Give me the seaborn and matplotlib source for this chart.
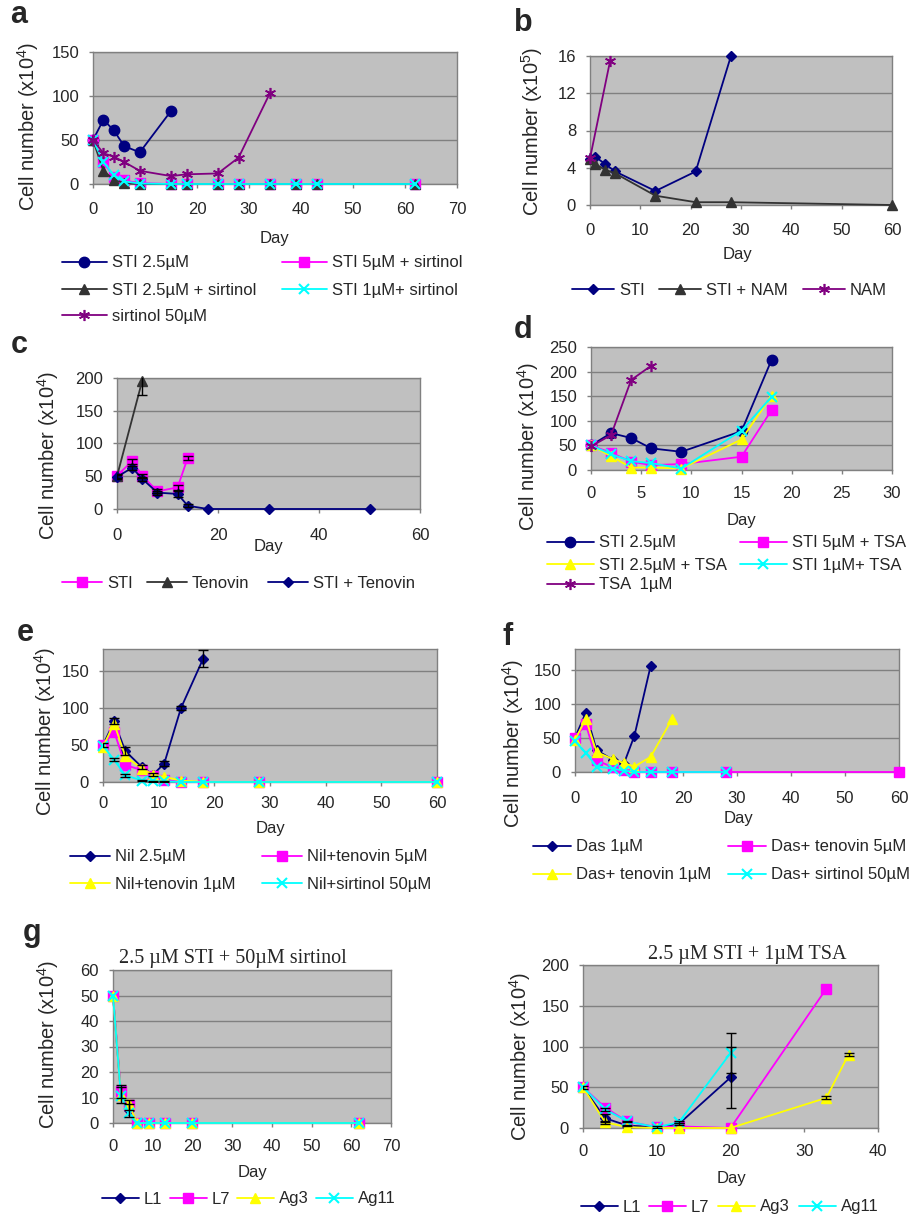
import matplotlib
matplotlib.use("Agg")
import matplotlib.pyplot as plt
import seaborn as sns

# ---------------- data ----------------
# a: sirtinol combinations
a_days_sti = [0, 2, 4, 6, 9, 15]
a_sti25 = [50, 73, 61, 43, 36, 83]
a_days_comb = [0, 2, 4, 6, 9, 15, 18, 24, 28, 34, 39, 43, 62]
a_sti5_sirt = [50, 25, 8, 4, 1, 0, 0, 0, 0, 0, 0, 0, 0]
a_sti25_sirt = [50, 15, 5, 1, 0, 0, 0, 0, 0, 0, 0, 0, 0]
a_sti1_sirt = [50, 25, 10, 3, 0.5, 0, 0, 0, 0, 0, 0, 0, 0]
a_days_sirt = [0, 2, 4, 6, 9, 15, 18, 24, 28, 34]
a_sirt50 = [50, 35, 31, 25, 15, 9, 11, 12, 30, 103]

# b: nicotinamide (x10^5)
b_days_sti = [0, 1, 3, 5, 13, 21, 28]
b_sti = [4.9, 5.2, 4.4, 3.6, 1.5, 3.6, 16]
b_days_sti_nam = [0, 1, 3, 5, 13, 21, 28, 60]
b_sti_nam = [4.9, 4.4, 3.8, 3.4, 1.0, 0.3, 0.3, 0]
b_days_nam = [0, 4]
b_nam = [5, 15.5]

# c: tenovin
c_days_sti = [0, 3, 5, 8, 12, 14]
c_sti = [51, 73, 51, 27, 33, 78]
c_sti_err = [3, 4, 3, 3, 4, 3]
c_days_ten = [0, 5]
c_ten = [50, 196]
c_ten_err = [0, 22]
c_days_combo = [0, 3, 5, 8, 12, 14, 18, 30, 50]
c_combo = [49, 63, 46, 25, 23, 5, 0, 0, 0]
c_combo_err = [3, 3, 3, 3, 4, 2, 0, 0, 0]

# d: TSA
d_days = [0, 2, 4, 6, 9, 15, 18]
d_sti25 = [50, 75, 65, 44, 37, 79, 224]
d_sti5_tsa = [50, 35, 17, 10, 12, 27, 122]
d_sti25_tsa = [50, 28, 5, 5, 3, 62, 151]
d_sti1_tsa = [50, 32, 18, 14, 3, 80, 149]
d_days_tsa = [0, 2, 4, 6]
d_tsa = [48, 71, 183, 212]

# e: nilotinib
e_days_nil = [0, 2, 4, 7, 9, 11, 14, 18]
e_nil = [50, 82, 42, 20, 10, 25, 100, 167]
e_nil_err = [3, 4, 5, 3, 2, 3, 3, 11]
e_days_comb = [0, 2, 4, 7, 9, 11, 14, 18, 28, 60]
e_ten5 = [50, 68, 23, 16, 8, 3, 0, 0, 0, 0]
e_ten1 = [48, 79, 35, 18, 10, 7, 2, 0, 0, 0]
e_sirt = [49, 30, 9, 2, 1, 1, 0, 0, 0, 0]
e_sirt_err = [0, 2, 2, 1, 1, 1, 0, 0, 0, 0]

# f: dasatinib
f_days_das = [0, 2, 4, 7, 9, 11, 14]
f_das = [50, 87, 32, 18, 11, 53, 155]
f_days_ten5 = [0, 2, 4, 7, 9, 11, 14, 18, 28, 60]
f_ten5 = [50, 70, 17, 7, 3, 0, 0, 0, 0, 0]
f_days_ten1 = [0, 2, 4, 7, 9, 11, 14, 18]
f_ten1 = [47, 78, 29, 19, 13, 8, 22, 78]
f_days_sirt = [0, 2, 4, 7, 9, 11, 14, 18, 28]
f_sirt = [45, 28, 8, 5, 2, 0, 0, 0, 0]

# g left: 2.5 uM STI + 50 uM sirtinol
gl_days = [0, 2, 4, 6, 9, 13, 20, 62]
gl_l1 = [50, 11, 5, 0, 0, 0, 0, 0]
gl_l1_err = [0, 3, 2.5, 0, 0, 0, 0, 0]
gl_l7 = [50, 12.4, 7, 0, 0, 0, 0, 0]
gl_l7_err = [0, 2.5, 2, 0, 0, 0, 0, 0]
gl_ag3 = [50, 11, 7.5, 0, 0, 0, 0, 0]
gl_ag11 = [50, 10.5, 4, 0, 0, 0, 0, 0]

# g right: 2.5 uM STI + 1 uM TSA
gr_days_short = [0, 3, 6, 10, 13, 20]
gr_l1 = [50, 12, 3, 1, 5, 62]
gr_l1_err = [2, 5, 1, 1, 1, 37]
gr_ag11 = [50, 23, 8, 1, 7, 92]
gr_ag11_err = [0, 2, 1, 0, 1, 25]
gr_days_l7 = [0, 3, 6, 10, 13, 20, 33]
gr_l7 = [50, 25, 8, 1, 2, 0, 171]
gr_days_ag3 = [0, 3, 6, 10, 13, 20, 33, 36]
gr_ag3 = [50, 7, 1, 0, 0, 0, 37, 90]
gr_ag3_err = [0, 2, 0, 0, 0, 0, 2, 2]

# ---------------- styling ----------------
sns.set_theme(style="white")
plt.rcParams["font.family"] = ["Liberation Sans", "DejaVu Sans"]
plt.rcParams["mathtext.fontset"] = "custom"
plt.rcParams["mathtext.rm"] = "Liberation Sans"
plt.rcParams["mathtext.default"] = "regular"

W, H = 921, 1217
fig = plt.figure(figsize=(W / 100, H / 100), dpi=100)
fig.patch.set_facecolor("white")

PLOT_BG = "#C0C0C0"
GREY = "#808080"
FS = 12
YFS = 14.5

STYLE = {
    "circle_navy": dict(color="#000080", marker="o", markersize=7.5),
    "diamond_navy": dict(color="#000080", marker="D", markersize=5.5),
    "square_mag": dict(color="#FF00FF", marker="s", markersize=6.5),
    "tri_black": dict(color="#333333", marker="^", markersize=7.5),
    "tri_yellow": dict(color="#FFFF00", marker="^", markersize=7.5),
    "x_cyan": dict(color="#00FFFF", marker="x", markersize=7, markeredgewidth=1.5),
    "star_purple": dict(color="#800080", marker=(6, 2, 0), markersize=8, markeredgewidth=1.2),
}


def make_panel(box, xlim, xticks, ylim, yticks, ylabel, ylab_xy, xlab_xy, xdist):
    x0, y0, x1, y1 = box
    ax = fig.add_axes([x0 / W, 1 - y1 / H, (x1 - x0) / W, (y1 - y0) / H])
    ax.set_facecolor(PLOT_BG)
    ax.set_xlim(*xlim)
    ax.set_ylim(*ylim)
    ax.set_xticks(xticks)
    ax.set_yticks(yticks)
    ax.yaxis.grid(True, color=GREY, linewidth=1)
    ax.xaxis.grid(False)
    ax.set_axisbelow(True)
    for s in ax.spines.values():
        s.set_color(GREY)
        s.set_linewidth(1)
    # tick labels: pad so the label centre sits xdist px below the axis
    xpad = (xdist - 4 - 9) * 0.72
    ax.tick_params(axis="x", direction="out", length=3, width=1, color=GREY,
                   labelsize=FS, pad=xpad, bottom=True)
    ax.tick_params(axis="y", direction="out", length=3, width=1, color=GREY,
                   labelsize=FS, pad=7, left=True)
    ax.set_ylabel(ylabel, fontsize=YFS)
    ax.yaxis.set_label_coords((ylab_xy[0] - x0) / (x1 - x0), (y1 - ylab_xy[1]) / (y1 - y0))
    ax.yaxis.label.set_va("center")
    ax.set_xlabel("Day", fontsize=FS)
    ax.xaxis.set_label_coords((xlab_xy[0] - x0) / (x1 - x0), (y1 - xlab_xy[1]) / (y1 - y0))
    ax.xaxis.label.set_va("center")
    return ax


def series(ax, x, y, key, z=3):
    st = dict(STYLE[key])
    c = st.pop("color")
    st.setdefault("markeredgewidth", 1)
    sns.lineplot(x=x, y=y, ax=ax, color=c, markeredgecolor=c, markerfacecolor=c,
                 linewidth=1.3, legend=False, clip_on=False, zorder=z, **st)
    return ax.lines[-1]


def errbars(ax, x, y, err):
    pts = [(a, b, e) for a, b, e in zip(x, y, err) if e > 0]
    ax.errorbar([p[0] for p in pts], [p[1] for p in pts], yerr=[p[2] for p in pts],
                fmt="none", ecolor="black", elinewidth=1, capsize=3.5, capthick=1, zorder=4)


def legend_item(handle, label, x, y, hlen):
    fig.legend([handle], [label], loc="center left", bbox_to_anchor=(x / W, 1 - y / H),
               frameon=False, borderpad=0, borderaxespad=0, fontsize=FS,
               handlelength=hlen / 16.7, handletextpad=0.3, numpoints=1)


def panel_letter(t, x, y):
    fig.text(x / W, 1 - y / H, t, fontsize=22, fontweight="bold", ha="center", va="center")


YL4 = "Cell number (x10$^4$)"
YL5 = "Cell number (x10$^5$)"

# ---- a ----
ax = make_panel((93, 52, 457, 184), (0, 70), range(0, 71, 10), (0, 150), [0, 50, 100, 150],
                YL4, (28, 126), (274, 238), 27)
h1 = series(ax, a_days_sti, a_sti25, "circle_navy")
h2 = series(ax, a_days_comb, a_sti5_sirt, "square_mag")
h3 = series(ax, a_days_comb, a_sti25_sirt, "tri_black")
h4 = series(ax, a_days_comb, a_sti1_sirt, "x_cyan")
h5 = series(ax, a_days_sirt, a_sirt50, "star_purple")
legend_item(h1, "STI 2.5µM", 62, 263, 45)
legend_item(h2, "STI 5µM + sirtinol", 282, 263, 45)
legend_item(h3, "STI 2.5µM + sirtinol", 62, 290, 45)
legend_item(h4, "STI 1µM+ sirtinol", 282, 290, 45)
legend_item(h5, "sirtinol 50µM", 62, 316, 45)
panel_letter("a", 19, 15)

# ---- b ----
ax = make_panel((590, 56, 892, 205), (0, 60), range(0, 61, 10), (0, 16), [0, 4, 8, 12, 16],
                YL5, (532, 131), (738, 254), 27)
h1 = series(ax, b_days_sti, b_sti, "diamond_navy")
h2 = series(ax, b_days_sti_nam, b_sti_nam, "tri_black")
h3 = series(ax, b_days_nam, b_nam, "star_purple")
legend_item(h1, "STI", 572, 290, 42)
legend_item(h2, "STI + NAM", 659, 290, 42)
legend_item(h3, "NAM", 803, 290, 42)
panel_letter("b", 523, 23)

# ---- c ----
ax = make_panel((117, 378, 420, 509), (0, 60), range(0, 61, 20), (0, 200), [0, 50, 100, 150, 200],
                YL4, (48, 455), (268, 547), 28)
errbars(ax, c_days_ten, c_ten, c_ten_err)
errbars(ax, c_days_sti, c_sti, c_sti_err)
errbars(ax, c_days_combo, c_combo, c_combo_err)
h1 = series(ax, c_days_sti, c_sti, "square_mag")
h2 = series(ax, c_days_ten, c_ten, "tri_black")
h3 = series(ax, c_days_combo, c_combo, "diamond_navy")
legend_item(h1, "STI", 62, 583, 40)
legend_item(h2, "Tenovin", 147, 583, 40)
legend_item(h3, "STI + Tenovin", 268, 583, 40)
panel_letter("c", 19, 345)

# ---- d ----
ax = make_panel((591, 347, 892, 470), (0, 30), range(0, 31, 5), (0, 250), range(0, 251, 50),
                YL4, (528, 446), (742, 520), 25)
h1 = series(ax, d_days, d_sti25, "circle_navy")
h2 = series(ax, d_days, d_sti5_tsa, "square_mag")
h3 = series(ax, d_days, d_sti25_tsa, "tri_yellow")
h4 = series(ax, d_days, d_sti1_tsa, "x_cyan")
h5 = series(ax, d_days_tsa, d_tsa, "star_purple")
legend_item(h1, "STI 2.5µM", 547, 543, 47)
legend_item(h2, "STI 5µM + TSA", 740, 543, 47)
legend_item(h3, "STI 2.5µM + TSA", 547, 565, 47)
legend_item(h4, "STI 1µM+ TSA", 740, 565, 47)
legend_item(h5, "TSA  1µM", 547, 585, 47)
panel_letter("d", 523, 330)

# ---- e ----
ax = make_panel((103, 649, 437, 782), (0, 60), range(0, 61, 10), (0, 180), [0, 50, 100, 150],
                YL4, (45, 731), (270, 828), 23)
errbars(ax, e_days_nil, e_nil, e_nil_err)
errbars(ax, e_days_comb, e_sirt, e_sirt_err)
h1 = series(ax, e_days_nil, e_nil, "diamond_navy")
h2 = series(ax, e_days_comb, e_ten5, "square_mag")
h3 = series(ax, e_days_comb, e_ten1, "tri_yellow")
h4 = series(ax, e_days_comb, e_sirt, "x_cyan")
legend_item(h1, "Nil 2.5µM", 70, 857, 40)
legend_item(h2, "Nil+tenovin 5µM", 262, 857, 40)
legend_item(h3, "Nil+tenovin 1µM", 70, 884, 40)
legend_item(h4, "Nil+sirtinol 50µM", 262, 884, 40)
panel_letter("e", 25, 633)

# ---- f ----
ax = make_panel((575, 649, 899, 772), (0, 60), range(0, 61, 10), (0, 180), [0, 50, 100, 150],
                YL4, (513, 743), (738, 818), 28)
h1 = series(ax, f_days_das, f_das, "diamond_navy")
h2 = series(ax, f_days_ten5, f_ten5, "square_mag")
h3 = series(ax, f_days_ten1, f_ten1, "tri_yellow")
h4 = series(ax, f_days_sirt, f_sirt, "x_cyan")
legend_item(h1, "Das 1µM", 533, 847, 38)
legend_item(h2, "Das+ tenovin 5µM", 728, 847, 38)
legend_item(h3, "Das+ tenovin 1µM", 533, 875, 38)
legend_item(h4, "Das+ sirtinol 50µM", 728, 875, 38)
panel_letter("f", 508, 637)

# ---- g left ----
ax = make_panel((113, 970, 391, 1123), (0, 70), range(0, 71, 10), (0, 60), range(0, 61, 10),
                YL4, (48, 1044), (252, 1172), 25)
errbars(ax, gl_days, gl_l1, gl_l1_err)
errbars(ax, gl_days, gl_l7, gl_l7_err)
h1 = series(ax, gl_days, gl_l1, "diamond_navy")
h2 = series(ax, gl_days, gl_l7, "square_mag")
h3 = series(ax, gl_days, gl_ag3, "tri_yellow")
h4 = series(ax, gl_days, gl_ag11, "x_cyan")
legend_item(h1, "L1", 102, 1199, 37)
legend_item(h2, "L7", 170, 1199, 37)
legend_item(h3, "Ag3", 237, 1199, 37)
legend_item(h4, "Ag11", 316, 1199, 37)
fig.text(233 / W, 1 - 958 / H, "2.5 µM STI + 50µM sirtinol", family="Liberation Serif",
         fontsize=14.5, ha="center", va="center")
panel_letter("g", 32, 933)

# ---- g right ----
ax = make_panel((583, 965, 878, 1128), (0, 40), range(0, 41, 10), (0, 200), range(0, 201, 50),
                YL4, (520, 1056), (731, 1178), 25)
errbars(ax, gr_days_short, gr_l1, gr_l1_err)
errbars(ax, gr_days_short, gr_ag11, gr_ag11_err)
errbars(ax, gr_days_ag3, gr_ag3, gr_ag3_err)
h1 = series(ax, gr_days_short, gr_l1, "diamond_navy")
h2 = series(ax, gr_days_l7, gr_l7, "square_mag")
h3 = series(ax, gr_days_ag3, gr_ag3, "tri_yellow")
h4 = series(ax, gr_days_short, gr_ag11, "x_cyan")
legend_item(h1, "L1", 581, 1207, 37)
legend_item(h2, "L7", 649, 1207, 37)
legend_item(h3, "Ag3", 718, 1207, 37)
legend_item(h4, "Ag11", 799, 1207, 37)
fig.text(747 / W, 1 - 954 / H, "2.5 µM STI + 1µM TSA", family="Liberation Serif",
         fontsize=14.5, ha="center", va="center")

fig.savefig("out.png", dpi=100)
